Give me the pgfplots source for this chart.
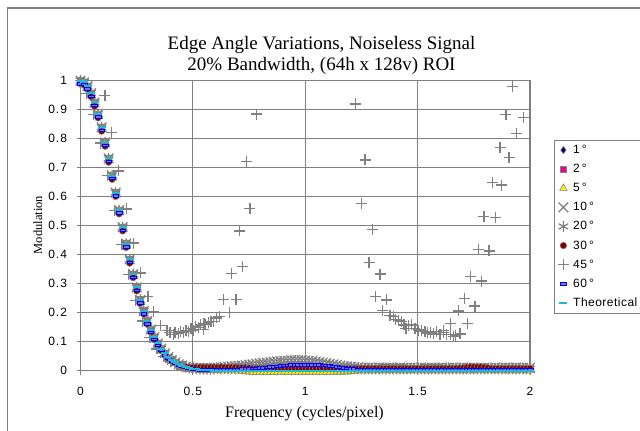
\documentclass[border=0pt]{standalone}
\usepackage{pgfplots}
\pgfplotsset{compat=1.18}
\usepackage{pgfplotstable}
\usepackage{fontspec}
\setmainfont{Liberation Serif}
\newfontfamily\arial[LetterSpace=8]{Liberation Sans}
\newfontfamily\arialleg[LetterSpace=4]{Liberation Sans}
\definecolor{xgray}{RGB}{128,128,128}
\definecolor{navy}{RGB}{0,0,128}
\definecolor{dred}{RGB}{128,0,0}
\definecolor{cyanx}{RGB}{38,182,210}
\definecolor{lblue}{RGB}{120,120,200}
\pgfdeclareplotmark{hbar}{%
  \pgfpathrectangle{\pgfpoint{-\pgfplotmarksize}{-0.45\pgfplotmarksize}}{\pgfpoint{2\pgfplotmarksize}{0.9\pgfplotmarksize}}%
  \pgfusepathqfillstroke}

\pgfplotstableread{
f g a1 a2 a5 a10 a20 a30 a60
0 1 1 1 1 1 1 0.99 0.99
0.0156 0.995 0.995 0.995 0.995 0.995 0.995 0.985 0.988
0.0313 0.981 0.981 0.981 0.981 0.981 0.981 0.970 0.972
0.0469 0.957 0.957 0.957 0.957 0.957 0.957 0.945 0.947
0.0625 0.925 0.925 0.925 0.925 0.925 0.925 0.912 0.915
0.0781 0.885 0.885 0.885 0.885 0.885 0.885 0.872 0.875
0.0938 0.839 0.839 0.839 0.839 0.839 0.839 0.826 0.829
0.1094 0.787 0.787 0.787 0.787 0.787 0.787 0.774 0.777
0.125 0.732 0.732 0.732 0.732 0.732 0.732 0.719 0.722
0.1406 0.673 0.673 0.673 0.673 0.673 0.673 0.660 0.663
0.1563 0.614 0.614 0.614 0.614 0.614 0.614 0.601 0.604
0.1719 0.554 0.554 0.554 0.554 0.554 0.554 0.541 0.544
0.1875 0.495 0.495 0.495 0.495 0.495 0.495 0.482 0.485
0.2031 0.438 0.438 0.438 0.438 0.438 0.438 0.425 0.428
0.2188 0.384 0.384 0.384 0.384 0.384 0.384 0.371 0.374
0.2344 0.333 0.333 0.333 0.333 0.333 0.333 0.321 0.323
0.25 0.287 0.287 0.287 0.287 0.287 0.287 0.275 0.277
0.2656 0.244 0.244 0.244 0.244 0.244 0.244 0.232 0.234
0.2813 0.206 0.206 0.206 0.206 0.206 0.206 0.195 0.196
0.2969 0.172 0.172 0.172 0.172 0.172 0.172 0.161 0.162
0.3125 0.142 0.142 0.142 0.142 0.142 0.142 0.132 0.133
0.3281 0.116 0.116 0.116 0.116 0.116 0.116 0.107 0.108
0.3438 0.094 0.094 0.094 0.094 0.094 0.094 0.086 0.087
0.3594 0.076 0.076 0.076 0.076 0.076 0.076 0.069 0.070
0.375 0.060 0.060 0.060 0.060 0.060 0.060 0.054 0.055
0.3906 0.047 0.047 0.047 0.047 0.047 0.047 0.042 0.043
0.4063 0.037 0.037 0.037 0.037 0.037 0.037 0.033 0.034
0.4219 0.029 0.029 0.029 0.029 0.029 0.029 0.026 0.027
0.4375 0.022 0.022 0.022 0.022 0.022 0.022 0.020 0.021
0.4531 0.017 0.017 0.017 0.017 0.018 0.017 0.016 0.016
0.4688 0.012 0.012 0.012 0.012 0.014 0.012 0.013 0.012
0.4844 0.009 0.009 0.009 0.009 0.012 0.009 0.012 0.009
0.5 0.007 0.007 0.008 0.006 0.011 0.007 0.012 0.007
0.5156 0.005 0.005 0.010 0.004 0.010 0.006 0.012 0.005
0.5313 0.004 0.004 0.011 0.003 0.009 0.005 0.012 0.004
0.5469 0.003 0.004 0.012 0.002 0.009 0.005 0.012 0.004
0.5625 0.002 0.004 0.012 0.002 0.009 0.005 0.012 0.004
0.5781 0.001 0.004 0.012 0.002 0.009 0.005 0.012 0.004
0.5938 0 0.004 0.012 0.002 0.010 0.005 0.012 0.004
0.6094 0 0.004 0.011 0.001 0.011 0.006 0.012 0.004
0.625 0 0.004 0.010 0.001 0.012 0.006 0.013 0.004
0.6406 0 0.004 0.008 0 0.013 0.007 0.012 0.004
0.6563 0 0.004 0.007 0 0.014 0.007 0.012 0.005
0.6719 0 0.004 0.006 0 0.015 0.008 0.012 0.005
0.6875 0 0.004 0.006 0 0.016 0.009 0.012 0.005
0.7031 0 0.004 0.006 -0.001 0.017 0.009 0.011 0.005
0.7188 0 0.004 0.006 -0.002 0.018 0.010 0.011 0.006
0.7344 0 0.004 0.006 -0.003 0.019 0.011 0.011 0.006
0.75 0 0.004 0.006 -0.004 0.021 0.012 0.010 0.007
0.7656 0 0.004 0.006 -0.005 0.022 0.013 0.008 0.008
0.7813 0 0.004 0.006 -0.006 0.024 0.014 0.008 0.009
0.7969 0 0.004 0.006 -0.006 0.025 0.015 0.008 0.010
0.8125 0 0.004 0.006 -0.006 0.027 0.016 0.008 0.011
0.8281 0 0.004 0.006 -0.006 0.028 0.017 0.008 0.012
0.8438 0 0.004 0.006 -0.006 0.030 0.018 0.008 0.013
0.8594 0 0.004 0.006 -0.006 0.031 0.019 0.008 0.014
0.875 0 0.004 0.006 -0.006 0.032 0.020 0.008 0.016
0.8906 0 0.004 0.006 -0.006 0.033 0.021 0.008 0.017
0.9063 0 0.004 0.006 -0.006 0.034 0.022 0.008 0.018
0.9219 0 0.005 0.006 -0.006 0.035 0.022 0.008 0.019
0.9375 0 0.005 0.006 -0.006 0.036 0.023 0.008 0.020
0.9531 0 0.005 0.006 -0.006 0.036 0.023 0.008 0.020
0.9688 0 0.005 0.006 -0.006 0.036 0.023 0.008 0.020
0.9844 0 0.005 0.006 -0.006 0.036 0.023 0.008 0.020
1 0 0.005 0.006 -0.006 0.035 0.022 0.008 0.020
1.0156 0 0.005 0.006 -0.006 0.034 0.022 0.008 0.020
1.0313 0 0.005 0.006 -0.006 0.033 0.021 0.008 0.020
1.0469 0 0.005 0.006 -0.006 0.032 0.020 0.008 0.020
1.0625 0 0.004 0.006 -0.006 0.030 0.019 0.008 0.020
1.0781 0 0.004 0.006 -0.006 0.028 0.017 0.008 0.019
1.0938 0 0.004 0.006 -0.006 0.026 0.016 0.008 0.018
1.1094 0 0.004 0.006 -0.006 0.024 0.014 0.008 0.017
1.125 0 0.004 0.006 -0.006 0.022 0.013 0.008 0.016
1.1406 0 0.004 0.006 -0.005 0.020 0.012 0.008 0.014
1.1563 0 0.004 0.006 -0.005 0.018 0.011 0.008 0.012
1.1719 0 0.004 0.006 -0.004 0.016 0.010 0.008 0.010
1.1875 0 0.004 0.006 -0.004 0.015 0.009 0.008 0.008
1.2031 0 0.004 0.006 -0.003 0.014 0.008 0.008 0.007
1.2188 0 0.004 0.006 -0.002 0.013 0.007 0.008 0.006
1.2344 0 0.004 0.006 -0.001 0.012 0.007 0.008 0.005
1.25 0 0.004 0.006 0 0.011 0.006 0.008 0.005
1.2656 0 0.004 0.006 0 0.010 0.006 0.008 0.005
1.2813 0 0.004 0.006 0 0.011 0.006 0.008 0.005
1.2969 0 0.004 0.006 0 0.010 0.006 0.008 0.005
1.3125 0 0.004 0.006 0 0.010 0.006 0.008 0.005
1.3281 0 0.004 0.007 0 0.011 0.006 0.008 0.005
1.3438 0 0.004 0.010 0 0.010 0.006 0.008 0.005
1.3594 0 0.004 0.010 0 0.010 0.006 0.008 0.005
1.375 0 0.004 0.011 0 0.011 0.006 0.008 0.005
1.3906 0 0.004 0.011 0 0.010 0.006 0.008 0.005
1.4063 0 0.004 0.011 0 0.010 0.006 0.008 0.005
1.4219 0 0.004 0.010 0 0.011 0.006 0.008 0.005
1.4375 0 0.004 0.010 0 0.010 0.006 0.008 0.005
1.4531 0 0.004 0.007 0 0.010 0.006 0.008 0.005
1.4688 0 0.004 0.006 0 0.011 0.006 0.008 0.005
1.4844 0 0.004 0.006 0 0.010 0.006 0.008 0.005
1.5 0 0.004 0.006 0 0.010 0.006 0.008 0.005
1.5156 0 0.004 0.008 0 0.011 0.006 0.008 0.005
1.5313 0 0.004 0.012 0 0.010 0.006 0.008 0.005
1.5469 0 0.004 0.012 0 0.010 0.006 0.008 0.005
1.5625 0 0.004 0.012 0 0.011 0.006 0.008 0.005
1.5781 0 0.004 0.012 0 0.010 0.006 0.008 0.005
1.5938 0 0.004 0.011 0 0.010 0.006 0.008 0.005
1.6094 0 0.004 0.007 0 0.011 0.006 0.008 0.005
1.625 0 0.004 0.006 0 0.010 0.006 0.008 0.005
1.6406 0 0.004 0.006 0 0.010 0.006 0.008 0.005
1.6563 0 0.004 0.006 0 0.011 0.006 0.008 0.005
1.6719 0 0.004 0.006 0 0.010 0.006 0.008 0.005
1.6875 0 0.004 0.006 0 0.010 0.006 0.009 0.005
1.7031 0 0.004 0.006 0 0.011 0.006 0.010 0.005
1.7188 0 0.004 0.006 0 0.010 0.006 0.012 0.005
1.7344 0 0.004 0.006 0 0.010 0.006 0.013 0.005
1.75 0 0.004 0.006 0 0.011 0.006 0.013 0.005
1.7656 0 0.004 0.006 0 0.010 0.006 0.013 0.005
1.7813 0 0.004 0.006 0 0.010 0.006 0.013 0.005
1.7969 0 0.004 0.006 0 0.011 0.006 0.012 0.005
1.8125 0 0.004 0.006 0 0.010 0.006 0.010 0.005
1.8281 0 0.004 0.006 0 0.010 0.006 0.008 0.005
1.8438 0 0.004 0.006 0 0.011 0.006 0.008 0.005
1.8594 0 0.004 0.006 0 0.010 0.006 0.008 0.005
1.875 0 0.004 0.006 0 0.010 0.006 0.008 0.005
1.8906 0 0.004 0.006 0 0.011 0.006 0.008 0.005
1.9063 0 0.004 0.006 0 0.010 0.006 0.008 0.005
1.9219 0 0.004 0.006 0 0.010 0.006 0.008 0.005
1.9375 0 0.004 0.006 0 0.011 0.006 0.008 0.005
1.9531 0 0.004 0.006 0 0.010 0.006 0.008 0.005
1.9688 0 0.004 0.006 0 0.010 0.006 0.008 0.005
1.9844 0 0.004 0.006 0 0.011 0.006 0.008 0.005
2 0 0.004 0.006 0 0.010 0.006 0.008 0.005
}\data

\begin{document}
\begin{tikzpicture}[x=1pt,y=1pt]
\useasboundingbox (0,0) rectangle (640,431);
\fill[white] (0,0) rectangle (640,431);
\draw[xgray, line width=1.2pt] (7.5,423) rectangle (660,-20);
\begin{axis}[
  at={(80.5pt,60.3pt)}, anchor=south west,
  scale only axis, width=449.5pt, height=290pt,
  xmin=0, xmax=2, ymin=0, ymax=1,
  clip=false,
  axis line style={xgray, line width=1.6pt},
  grid=major, major grid style={xgray, line width=0.8pt},
  xtick={0,0.5,1,1.5,2}, xticklabels={0,0.5,1,1.5,2},
  ytick={0,0.1,0.2,0.3,0.4,0.5,0.6,0.7,0.8,0.9,1},
  yticklabels={0,0.1,0.2,0.3,0.4,0.5,0.6,0.7,0.8,0.9,1},
  tick pos=left, tick align=outside, major tick length=4pt,
  tick style={xgray, line width=1pt},
  ticklabel style={font=\arial\fontsize{12}{12}\selectfont},
  xticklabel style={yshift=-9pt},
  yticklabel style={xshift=-6pt},
  legend style={at={(1.0534,0.796)}, anchor=north west, draw=xgray, fill=white,
    font=\arialleg\fontsize{12}{12}\selectfont,
    inner xsep=3.7pt, inner ysep=4.5pt, row sep=8.1pt, column sep=4.3pt,
    nodes={inner sep=0pt, text height=9pt, text depth=2pt}},
  legend cell align=left,
  legend image code/.code={\draw[mark repeat=2,mark phase=2,#1] plot coordinates {(0pt,0pt) (4pt,0pt) (8pt,0pt)};},
]
\addplot[only marks, mark=diamond*, mark size=3.6pt, mark options={draw=xgray, fill=navy, line width=0.6pt}] table[x=f,y=a1]{\data};
\addlegendentry{1\,°}
\addplot[only marks, mark=square*, mark size=3.2pt, mark options={draw=xgray, fill=magenta, line width=0.6pt}] table[x=f,y=a2]{\data};
\addlegendentry{2\,°}
\addplot[only marks, mark=triangle*, mark size=4.3pt, mark options={draw=xgray, fill=yellow, line width=0.6pt}] table[x=f,y=a5]{\data};
\addlegendentry{5\,°}
\addplot[only marks, mark=x, mark size=6.8pt, mark options={draw=xgray, line width=1.2pt}] table[x=f,y=a10]{\data};
\addlegendentry{10\,°}
\addplot[only marks, mark=asterisk, mark size=5.5pt, mark options={draw=xgray, line width=1.2pt}] table[x=f,y=a20]{\data};
\addlegendentry{20\,°}
\addplot[only marks, mark=*, mark size=3.3pt, mark options={draw=xgray, fill=dred, line width=0.6pt}] table[x=f,y=a30]{\data};
\addlegendentry{30\,°}
\addplot[only marks, mark=+, mark size=5.5pt, mark options={draw=xgray, line width=1.3pt}] coordinates {
(0,1.0) (0.028,0.955) (0.059,0.883) (0.09,0.785) (0.121,0.672) (0.152,0.553) (0.184,0.435) (0.215,0.331) (0.246,0.243) (0.277,0.171) (0.309,0.115) (0.34,0.075) (0.37,0.048) (0.40,0.03) (0.43,0.02) (0.46,0.014)
(0.109,0.948) (0.139,0.822) (0.168,0.689) (0.205,0.558) (0.237,0.44) (0.267,0.337) (0.300,0.256) (0.326,0.204) (0.356,0.157) (0.385,0.138) (0.398,0.131)
(0.413,0.125) (0.420,0.131) (0.435,0.128) (0.446,0.134) (0.457,0.131) (0.469,0.138) (0.480,0.134) (0.491,0.145) (0.502,0.140) (0.513,0.152) (0.524,0.148) (0.535,0.158) (0.546,0.141) (0.550,0.163) (0.557,0.160) (0.569,0.165) (0.580,0.170) (0.591,0.169) (0.605,0.182) (0.618,0.186)
(0.636,0.246) (0.662,0.200) (0.692,0.246) (0.673,0.336) (0.707,0.482) (0.722,0.359) (0.739,0.721) (0.754,0.560) (0.784,0.885)
(1.224,0.920) (1.251,0.577) (1.266,0.727) (1.284,0.372) (1.300,0.488) (1.313,0.255) (1.333,0.333) (1.343,0.207) (1.362,0.244) (1.377,0.190) (1.392,0.186) (1.403,0.176) (1.414,0.172) (1.429,0.169) (1.440,0.158) (1.448,0.146) (1.459,0.155) (1.474,0.158) (1.488,0.145) (1.503,0.140) (1.518,0.137) (1.533,0.134) (1.545,0.130) (1.558,0.131) (1.570,0.127) (1.585,0.134) (1.600,0.126) (1.614,0.131) (1.630,0.124) (1.645,0.125) (1.659,0.117) (1.670,0.121) (1.689,0.127)
(1.614,0.138) (1.647,0.163) (1.681,0.206) (1.721,0.163) (1.708,0.250) (1.755,0.223) (1.736,0.324) (1.785,0.309) (1.770,0.419) (1.818,0.413) (1.795,0.531) (1.847,0.529) (1.832,0.648) (1.874,0.640) (1.867,0.770) (1.907,0.736) (1.893,0.884) (1.941,0.819) (1.923,0.979) (1.970,0.872)
};
\addlegendentry{45\,°}
\addplot[only marks, mark=hbar, mark size=2.8pt, mark options={draw=blue, fill=lblue, line width=0.5pt}] table[x=f,y=a60]{\data};
\addlegendentry{60\,°}
\addplot[only marks, mark=-, mark size=4pt, mark options={draw=cyanx, line width=2pt}] table[x=f,y=g]{\data};
\addlegendentry{\makebox[74pt][l]{Theoretical}}
\end{axis}
\node[font=\fontsize{19}{21}\selectfont, anchor=base] at (321.5,381) {Edge Angle Variations, Noiseless Signal};
\node[font=\fontsize{19}{21}\selectfont, anchor=base] at (321.5,360.5) {20\% Bandwidth, (64h x 128v) ROI};
\node[font=\fontsize{16}{18}\selectfont, anchor=base] at (304.5,13) {Frequency (cycles/pixel)};
\node[font=\fontsize{12.5}{14}\selectfont, anchor=base, rotate=90] at (42,206) {Modulation};
\end{tikzpicture}
\end{document}
